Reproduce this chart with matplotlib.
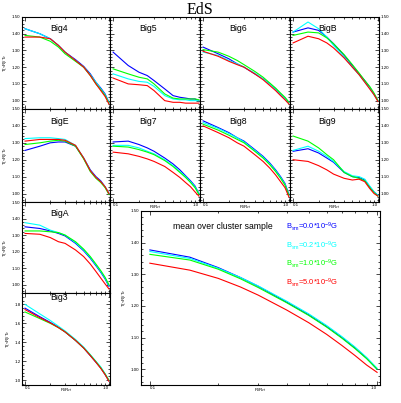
import matplotlib
matplotlib.use("Agg")
import matplotlib.pyplot as plt
from matplotlib.ticker import FixedLocator, MultipleLocator, FormatStrFormatter, NullFormatter

plt.rcParams['font.family'] = ['Liberation Sans', 'DejaVu Sans']
plt.rcParams['mathtext.fontset'] = 'custom'
plt.rcParams['mathtext.rm'] = 'Liberation Sans'
plt.rcParams['mathtext.it'] = 'Liberation Sans'

# ---------------- data ----------------
R = [0.1, 0.15, 0.2, 0.25, 0.3, 0.4, 0.5, 0.6, 0.7, 0.8, 0.9, 1.0]

FIELDS = ["0.0", "0.2", "1.0", "5.0"]
COLORS = ["#0000ff", "#00ffff", "#00ff00", "#ff0000"]

BIG4_B00 = [1.43, 1.40, 1.37, 1.33, 1.29, 1.245, 1.205, 1.16, 1.11, 1.075, 1.04, 0.99]
BIG4_B02 = [1.43, 1.40, 1.37, 1.33, 1.29, 1.24, 1.20, 1.155, 1.11, 1.07, 1.035, 0.99]
BIG4_B10 = [1.39, 1.38, 1.355, 1.32, 1.28, 1.235, 1.20, 1.15, 1.10, 1.065, 1.03, 0.985]
BIG4_B50 = [1.38, 1.38, 1.37, 1.33, 1.29, 1.24, 1.20, 1.15, 1.10, 1.06, 1.025, 0.98]

BIG5_B00 = [1.29, 1.21, 1.17, 1.15, 1.12, 1.07, 1.03, 1.02, 1.015, 1.01, 1.01, 1.0]
BIG5_B02 = [1.16, 1.13, 1.115, 1.11, 1.085, 1.03, 1.01, 1.005, 1.005, 1.0, 1.0, 1.0]
BIG5_B10 = [1.19, 1.16, 1.14, 1.13, 1.10, 1.04, 1.015, 1.01, 1.01, 1.01, 1.01, 1.005]
BIG5_B50 = [1.135, 1.10, 1.095, 1.09, 1.06, 1.0, 0.99, 0.99, 0.985, 0.985, 0.985, 0.985]

BIG6_B00 = [1.32, 1.28, 1.25, 1.22, 1.20, 1.16, 1.13, 1.10, 1.07, 1.04, 1.015, 0.99]
BIG6_B02 = [1.29, 1.27, 1.24, 1.22, 1.20, 1.165, 1.13, 1.10, 1.07, 1.04, 1.015, 0.99]
BIG6_B10 = [1.305, 1.29, 1.265, 1.24, 1.215, 1.175, 1.14, 1.105, 1.075, 1.045, 1.02, 0.99]
BIG6_B50 = [1.295, 1.265, 1.235, 1.215, 1.20, 1.16, 1.125, 1.09, 1.06, 1.03, 1.005, 0.98]

BIGB_B00 = [1.41, 1.435, 1.42, 1.38, 1.34, 1.27, 1.21, 1.16, 1.12, 1.08, 1.04, 1.0]
BIGB_B02 = [1.41, 1.47, 1.43, 1.38, 1.33, 1.26, 1.20, 1.155, 1.11, 1.075, 1.035, 1.0]
BIGB_B10 = [1.39, 1.41, 1.405, 1.375, 1.34, 1.275, 1.215, 1.165, 1.12, 1.085, 1.045, 1.0]
BIGB_B50 = [1.345, 1.385, 1.37, 1.345, 1.315, 1.255, 1.20, 1.155, 1.11, 1.07, 1.035, 0.995]

BIGE_B00 = [1.255, 1.28, 1.30, 1.305, 1.305, 1.28, 1.21, 1.14, 1.10, 1.075, 1.04, 1.0]
BIGE_B02 = [1.325, 1.33, 1.33, 1.325, 1.32, 1.285, 1.21, 1.135, 1.095, 1.07, 1.04, 1.0]
BIGE_B10 = [1.29, 1.30, 1.31, 1.315, 1.31, 1.28, 1.205, 1.13, 1.09, 1.065, 1.035, 0.995]
BIGE_B50 = [1.31, 1.32, 1.32, 1.32, 1.315, 1.285, 1.21, 1.135, 1.095, 1.07, 1.04, 1.0]

BIG7_B00 = [1.305, 1.31, 1.29, 1.27, 1.25, 1.21, 1.175, 1.14, 1.105, 1.075, 1.045, 1.0]
BIG7_B02 = [1.285, 1.285, 1.27, 1.25, 1.235, 1.20, 1.165, 1.13, 1.10, 1.07, 1.04, 1.0]
BIG7_B10 = [1.28, 1.275, 1.26, 1.245, 1.23, 1.195, 1.16, 1.125, 1.095, 1.065, 1.035, 0.995]
BIG7_B50 = [1.245, 1.235, 1.22, 1.205, 1.19, 1.16, 1.125, 1.095, 1.065, 1.04, 1.01, 0.985]

BIG8_B00 = [1.43, 1.39, 1.36, 1.33, 1.31, 1.26, 1.22, 1.18, 1.14, 1.10, 1.06, 0.995]
BIG8_B02 = [1.42, 1.385, 1.355, 1.33, 1.305, 1.255, 1.215, 1.175, 1.135, 1.095, 1.055, 0.99]
BIG8_B10 = [1.41, 1.375, 1.345, 1.32, 1.30, 1.25, 1.21, 1.17, 1.13, 1.09, 1.05, 0.99]
BIG8_B50 = [1.40, 1.36, 1.33, 1.30, 1.28, 1.23, 1.19, 1.15, 1.11, 1.07, 1.035, 0.98]

BIG9_B00 = [1.25, 1.265, 1.24, 1.21, 1.185, 1.125, 1.10, 1.095, 1.08, 1.04, 1.01, 0.99]
BIG9_B02 = [1.255, 1.28, 1.25, 1.22, 1.19, 1.13, 1.105, 1.10, 1.085, 1.045, 1.01, 0.99]
BIG9_B10 = [1.34, 1.31, 1.27, 1.23, 1.20, 1.125, 1.10, 1.09, 1.075, 1.035, 1.005, 0.985]
BIG9_B50 = [1.20, 1.19, 1.165, 1.14, 1.115, 1.09, 1.08, 1.085, 1.07, 1.03, 1.0, 0.985]

BIGA_B00 = [1.35, 1.34, 1.325, 1.31, 1.295, 1.25, 1.205, 1.16, 1.115, 1.075, 1.035, 0.99]
BIGA_B02 = [1.375, 1.36, 1.33, 1.315, 1.30, 1.255, 1.21, 1.165, 1.12, 1.08, 1.04, 0.995]
BIGA_B10 = [1.325, 1.325, 1.32, 1.315, 1.30, 1.26, 1.215, 1.17, 1.125, 1.085, 1.045, 1.0]
BIGA_B50 = [1.31, 1.305, 1.285, 1.26, 1.25, 1.21, 1.17, 1.125, 1.08, 1.04, 1.005, 0.975]

BIG3_B00 = [1.76, 1.67, 1.61, 1.56, 1.51, 1.42, 1.34, 1.26, 1.19, 1.13, 1.06, 0.995]
BIG3_B02 = [1.80, 1.70, 1.63, 1.57, 1.52, 1.43, 1.35, 1.27, 1.20, 1.14, 1.07, 1.0]
BIG3_B10 = [1.72, 1.65, 1.60, 1.555, 1.51, 1.42, 1.34, 1.265, 1.195, 1.13, 1.065, 1.0]
BIG3_B50 = [1.745, 1.66, 1.605, 1.555, 1.51, 1.42, 1.34, 1.26, 1.19, 1.125, 1.06, 0.99]

MEAN_B00 = [1.377, 1.354, 1.321, 1.29, 1.262, 1.212, 1.172, 1.135, 1.10, 1.067, 1.035, 1.0]
MEAN_B02 = [1.372, 1.35, 1.319, 1.29, 1.263, 1.215, 1.175, 1.138, 1.103, 1.07, 1.037, 1.003]
MEAN_B10 = [1.363, 1.345, 1.316, 1.286, 1.258, 1.21, 1.17, 1.133, 1.098, 1.065, 1.033, 1.0]
MEAN_B50 = [1.335, 1.313, 1.287, 1.26, 1.234, 1.187, 1.147, 1.11, 1.075, 1.043, 1.013, 0.99]

# ---------------- figure ----------------
W, H = 401, 403
fig = plt.figure(figsize=(W / 100, H / 100), dpi=100)

COLX = [22, 110, 200, 290, 379]
ROWY = [17, 109, 202, 293, 385]


def rect(x0, y0, x1, y1):
    return [x0 / W, 1 - y1 / H, (x1 - x0) / W, (y1 - y0) / H]


TFS = 3.2  # tick label font size


def style(ax, ylim, ymajor, yfmt, xlabels, ylabel_side, ylabel):
    ax.set_xscale('log')
    ax.set_xlim(0.092, 1.03)
    ax.set_ylim(*ylim)
    ax.xaxis.set_major_locator(FixedLocator([0.1, 1.0]))
    ax.xaxis.set_minor_locator(FixedLocator([0.2, 0.3, 0.4, 0.5, 0.6, 0.7, 0.8, 0.9]))
    ax.xaxis.set_minor_formatter(NullFormatter())
    ax.yaxis.set_major_locator(MultipleLocator(ymajor))
    ax.yaxis.set_minor_locator(MultipleLocator(ymajor / 5))
    ax.yaxis.set_major_formatter(FormatStrFormatter(yfmt))
    ax.tick_params(which='both', direction='in', top=True, right=True,
                   width=0.5, labelsize=TFS, pad=1)
    ax.tick_params(which='major', length=3)
    ax.tick_params(which='minor', length=1.5)
    for s in ax.spines.values():
        s.set_linewidth(0.8)
    if xlabels:
        labs = ax.set_xticklabels(['0.1', '1.0'])
        labs[0].set_ha('left')
        labs[1].set_ha('right')
        ax.set_xlabel('R/R$_{vir}$', fontsize=TFS, labelpad=-3)
    else:
        ax.xaxis.set_major_formatter(NullFormatter())
    if ylabel_side == 'left':
        if ylabel:
            ax.set_ylabel('T(<R)/T$_v$', fontsize=TFS, labelpad=2)
    elif ylabel_side == 'right':
        ax.yaxis.set_ticks_position('both')
        ax.tick_params(axis='y', labelleft=False, labelright=True)
    else:
        ax.tick_params(axis='y', labelleft=False)


def draw(ax, series):
    for vals, c in zip(series, COLORS):
        ax.plot(R, vals, color=c, lw=0.8)


panels = [
    ("Big4", 0, 0, [BIG4_B00, BIG4_B02, BIG4_B10, BIG4_B50], False, 'left'),
    ("Big5", 1, 0, [BIG5_B00, BIG5_B02, BIG5_B10, BIG5_B50], False, None),
    ("Big6", 2, 0, [BIG6_B00, BIG6_B02, BIG6_B10, BIG6_B50], False, None),
    ("BigB", 3, 0, [BIGB_B00, BIGB_B02, BIGB_B10, BIGB_B50], False, 'right'),
    ("BigE", 0, 1, [BIGE_B00, BIGE_B02, BIGE_B10, BIGE_B50], False, 'left'),
    ("Big7", 1, 1, [BIG7_B00, BIG7_B02, BIG7_B10, BIG7_B50], True, None),
    ("Big8", 2, 1, [BIG8_B00, BIG8_B02, BIG8_B10, BIG8_B50], True, None),
    ("Big9", 3, 1, [BIG9_B00, BIG9_B02, BIG9_B10, BIG9_B50], True, 'right'),
    ("BigA", 0, 2, [BIGA_B00, BIGA_B02, BIGA_B10, BIGA_B50], False, 'left'),
]

for name, c, r, series, xl, ys in panels:
    ax = fig.add_axes(rect(COLX[c], ROWY[r], COLX[c + 1], ROWY[r + 1]))
    draw(ax, series)
    style(ax, (0.95, 1.5), 0.1, '%.2f', xl, ys, ys == 'left')
    ax.text(0.32, 0.87, name, transform=ax.transAxes, fontsize=6.3,
            ha='left', va='center')

# Big3
ax = fig.add_axes(rect(COLX[0], ROWY[3], COLX[1], ROWY[4]))
draw(ax, [BIG3_B00, BIG3_B02, BIG3_B10, BIG3_B50])
style(ax, (0.95, 1.92), 0.2, '%.1f', True, 'left', True)
ax.text(0.32, 0.955, "Big3", transform=ax.transAxes, fontsize=6.3,
        ha='left', va='center')

# mean panel
ax = fig.add_axes(rect(141, 211, 380, 385))
draw(ax, [MEAN_B00, MEAN_B02, MEAN_B10, MEAN_B50])
style(ax, (0.95, 1.5), 0.1, '%.2f', True, 'left', True)
ax.set_xlim(0.0914, 1.03)
ax.text(0.134, 0.91, "mean over cluster sample", transform=ax.transAxes,
        fontsize=6.2, ha='left', va='center', color='black')
for i, (f, col) in enumerate(zip(FIELDS, COLORS)):
    ax.text(0.607, 0.91 - i * 0.108,
            "B$_{sm}$=" + f + "*10$^{-9}$G", transform=ax.transAxes,
            fontsize=5.4, ha='left', va='center', color=col)

fig.text(200 / W, 1 - 10 / H, "EdS", fontsize=11.5, ha='center', va='center',
         family=['Liberation Serif', 'DejaVu Serif'])

fig.savefig("out.png", dpi=100)
